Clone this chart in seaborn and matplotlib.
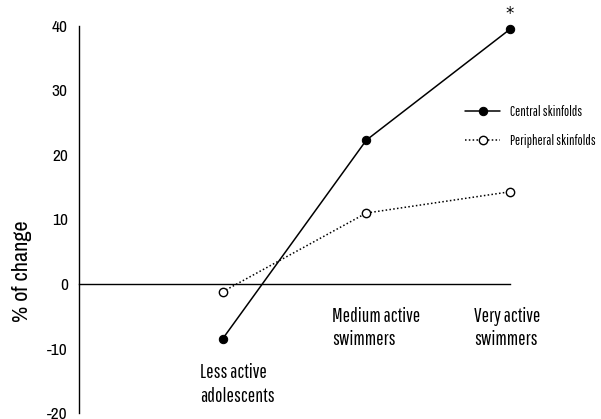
import matplotlib
matplotlib.use("Agg")
import matplotlib.pyplot as plt
import seaborn as sns
import pandas as pd
import numpy as np

categories = ["Less active\nadolescents", "Medium active\nswimmers", "Very active\nswimmers"]
central = [-8.5, 22.3, 39.5]
peripheral = [-1.2, 11.0, 14.3]
series_names = ["Central skinfolds", "Peripheral skinfolds"]
yticks = [-20, -10, 0, 10, 20, 30, 40]

sns.set_theme(style="white")
plt.rcParams['font.family'] = ['Archivo Narrow', 'DejaVu Sans']
plt.rcParams['text.color'] = 'black'
plt.rcParams['axes.labelcolor'] = 'black'
plt.rcParams['xtick.color'] = 'black'
plt.rcParams['ytick.color'] = 'black'
CAT_FONT = ['Pathway Gothic One', 'DejaVu Sans']

pos = np.arange(1, len(categories) + 1)
df = pd.DataFrame({
    "x": np.concatenate([pos, pos]),
    "y": central + peripheral,
    "series": [series_names[0]] * 3 + [series_names[1]] * 3,
})

fig = plt.figure(figsize=(6.01, 4.19), dpi=100)
ax = fig.add_axes([0.1314, 0.0143, 0.7172, 0.9237])

sns.lineplot(data=df[df.series == series_names[0]], x="x", y="y", ax=ax,
             color="black", lw=1.1, marker="o", markersize=6,
             markerfacecolor="black", markeredgecolor="black",
             label=series_names[0], legend=False, clip_on=False)
sns.lineplot(data=df[df.series == series_names[1]], x="x", y="y", ax=ax,
             color="black", lw=1.1, linestyle=(0, (1, 1.5)), marker="o", markersize=6,
             markerfacecolor="white", markeredgecolor="black", markeredgewidth=1,
             label=series_names[1], legend=False, clip_on=False)

ax.set_xlim(0, 3)
ax.set_ylim(-20, 40)
ax.set_yticks(yticks)
ax.set_yticklabels([str(v) for v in yticks], fontsize=12.5)
ax.set_xticks(pos)
ax.set_xticklabels([])
ax.set_xlabel("")
ax.set_ylabel("% of change", fontsize=16)
ax.yaxis.set_label_coords(-0.109, 0.367)

for s in ["top", "right"]:
    ax.spines[s].set_visible(False)
ax.spines["bottom"].set_position(("data", 0))
for s in ["left", "bottom"]:
    ax.spines[s].set_color("black")
    ax.spines[s].set_linewidth(1.0)
ax.tick_params(axis="y", direction="out", length=4, width=1, color="black", pad=4)
ax.tick_params(axis="x", direction="out", length=4, width=1, color="black")

# category labels
label_tops = [-12.3, -3.5, -3.5]
label_shift = [-0.16, -0.236, -0.25]
for p, c, t, sh in zip(pos, categories, label_tops, label_shift):
    ax.text(p + sh, t, c, ha="left", va="top", fontsize=14, linespacing=1.3,
            family=CAT_FONT)

# significance asterisk
ax.text(pos[2], central[2] + 1.65, "*", ha="center", va="baseline", fontsize=12,
        family="DejaVu Sans", clip_on=False)

handles, labels = ax.get_legend_handles_labels()
fig.legend(handles, labels, loc="upper left", bbox_to_anchor=(0.765, 0.762),
           frameon=False, prop={"family": CAT_FONT, "size": 10}, handlelength=2.5,
           handletextpad=0.7, labelspacing=1.05, borderaxespad=0)

fig.savefig("out.png", dpi=100)
